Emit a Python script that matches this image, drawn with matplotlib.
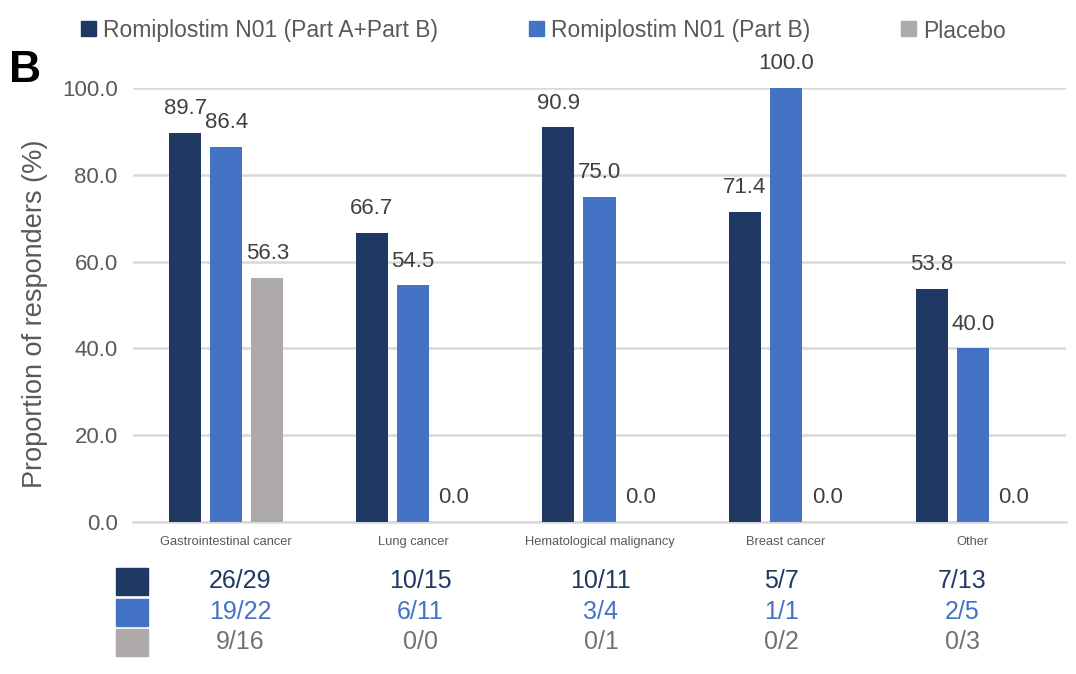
import matplotlib.pyplot as plt
from matplotlib.patches import Rectangle
import numpy as np

plt.rcParams['font.family'] = ['Liberation Sans', 'DejaVu Sans']

categories = ['Gastrointestinal cancer', 'Lung cancer', 'Hematological malignancy',
              'Breast cancer', 'Other']
series = ['Romiplostim N01 (Part A+Part B)', 'Romiplostim N01 (Part B)', 'Placebo']
values_ab = [89.7, 66.7, 90.9, 71.4, 53.8]
values_b = [86.4, 54.5, 75.0, 100.0, 40.0]
values_pl = [56.3, 0.0, 0.0, 0.0, 0.0]
counts_ab = ['26/29', '10/15', '10/11', '5/7', '7/13']
counts_b = ['19/22', '6/11', '3/4', '1/1', '2/5']
counts_pl = ['9/16', '0/0', '0/1', '0/2', '0/3']

bar_colors = ['#203864', '#4472C4', '#AEAAAA']
text_colors = ['#203864', '#4472C4', '#767171']

W, H = 1076, 674
fig = plt.figure(figsize=(W / 100, H / 100), dpi=100)
ax = fig.add_axes([133 / W, 1 - 522 / H, 933 / W, 434 / H])

x = np.arange(len(categories))
w = 0.172
step = 0.22
all_vals = [values_ab, values_b, values_pl]
for i, vals in enumerate(all_vals):
    pos = x + (i - 1) * step
    ax.bar(pos, vals, width=w, color=bar_colors[i], zorder=3)
    for px, v in zip(pos, vals):
        ax.annotate(f'{v:.1f}', (px, v), xytext=(0, 13.5), textcoords='offset points',
                    ha='center', va='baseline', fontsize=16, color='#404040')

ax.set_xlim(-0.5, 4.5)
ax.set_ylim(0, 100)
ax.set_yticks(np.arange(0, 101, 20))
ax.set_yticklabels([f'{t:.1f}' for t in np.arange(0, 101, 20)], fontsize=16, color='#595959')
ax.yaxis.grid(True, color='#D9D9D9', linewidth=1.8, zorder=0)
ax.set_axisbelow(True)
ax.tick_params(axis='y', length=0, pad=11)
ax.tick_params(axis='x', length=0, pad=10)
ax.set_xticks(x)
ax.set_xticklabels(categories, fontsize=9.3, color='#595959')
for s in ['top', 'right', 'left']:
    ax.spines[s].set_visible(False)
ax.spines['bottom'].set_color('#D9D9D9')
ax.spines['bottom'].set_linewidth(1.8)
fig.text(35 / W, 1 - 314 / H, 'Proportion of responders (%)', rotation=90,
         ha='center', va='center', fontsize=19.5, color='#595959')

# panel letter
fig.text(9 / W, 1 - 82 / H, 'B', fontsize=32, fontweight='bold', color='black',
         va='baseline')

# legend
leg_x = [81, 529, 901]
for lx, c, name in zip(leg_x, bar_colors, series):
    fig.patches.append(Rectangle((lx / W, 1 - 36 / H), 15 / W, 15 / H,
                                 transform=fig.transFigure, color=c, figure=fig))
    fig.text((lx + 22) / W, 1 - 31 / H, name, fontsize=16.5, color='#595959',
             va='center')

# count table under the chart
row_y = [581, 612, 642]
for ry, c, tc, counts in zip(row_y, bar_colors, text_colors,
                             [counts_ab, counts_b, counts_pl]):
    fig.patches.append(Rectangle((116 / W, 1 - (ry + 13.5) / H), 32 / W, 27 / H,
                                 transform=fig.transFigure, color=c, figure=fig))
    for i, t in enumerate(counts):
        fig.text((240 + 180.5 * i) / W, 1 - ry / H, t, ha='center', va='center',
                 fontsize=18, color=tc)

fig.savefig('out.png', dpi=100)
